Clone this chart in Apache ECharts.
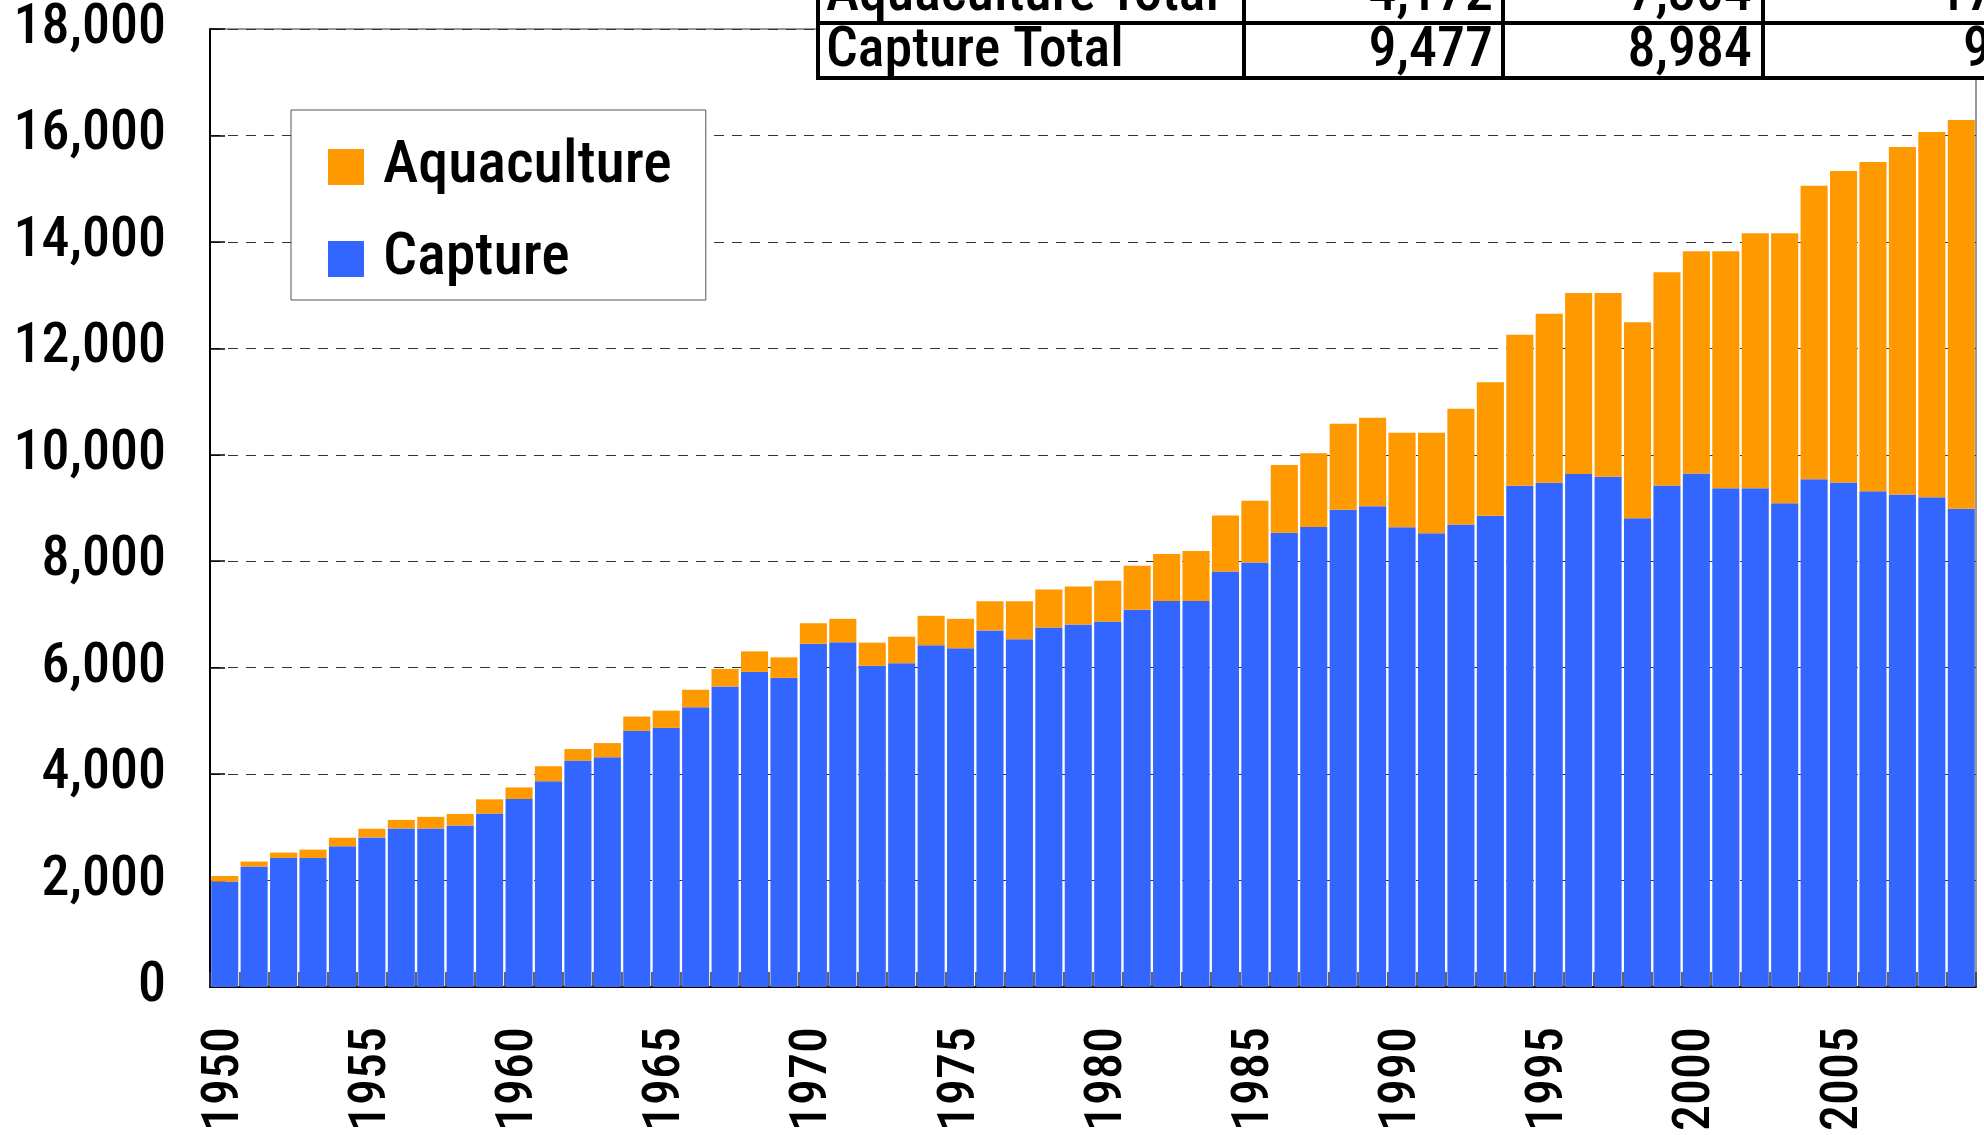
<!DOCTYPE html>
<html>
<head>
<meta charset="utf-8">
<script src="https://cdn.jsdelivr.net/npm/echarts@6/dist/echarts.min.js"></script>
<style>
html,body{margin:0;padding:0;background:#fff;}
#c{width:1984px;height:1135px;}
</style>
</head>
<body>
<div id="c"></div>
<script>
const years = ['1950','1951','1952','1953','1954','1955','1956','1957','1958','1959',
  '1960','1961','1962','1963','1964','1965','1966','1967','1968','1969',
  '1970','1971','1972','1973','1974','1975','1976','1977','1978','1979',
  '1980','1981','1982','1983','1984','1985','1986','1987','1988','1989',
  '1990','1991','1992','1993','1994','1995','1996','1997','1998','1999',
  '2000','2001','2002','2003','2004','2005','2006','2007','2008','2009'];
const capture = [1980,2264,2425,2425,2643,2811,2979,2979,3035,3259,
  3532,3868,4254,4316,4813,4869,5255,5647,5920,5808,
  6450,6476,6035,6085,6420,6364,6700,6532,6756,6812,
  6868,7086,7254,7254,7807,7975,8535,8645,8969,9031,
  8638,8525,8688,8856,9419,9475,9638,9588,8806,9422,
  9650,9369,9369,9088,9538,9481,9313,9256,9200,8984];
const aquaculture = [105,93,100,156,162,162,161,218,217,267,
  218,280,217,267,268,324,330,329,386,386,
  385,442,435,497,554,554,548,716,715,715,
  765,827,883,939,1051,1163,1275,1385,1612,1663,
  1775,1888,2175,2507,2837,3175,3400,3450,3682,4009,
  4175,4456,4794,5075,5518,5850,6187,6525,6863,7304];
const yTicks = [0,2000,4000,6000,8000,10000,12000,14000,16000,18000];
const tableRows = ['Aquaculture Total','Capture Total'];
const tableCol1 = ['4,172','9,477'];
const tableCol2 = ['7,304','8,984'];
const tableCol3 = ['17','9'];

const FONT = "'Roboto Condensed','Liberation Sans',sans-serif";
const WEIGHT = 500;
const chart = echarts.init(document.getElementById('c'));

const tbl = [];
const L = 818, C1 = 1244, C2 = 1503, C3 = 1763, R = 2100;
const rowY = [-33, 23, 78];
const col3X = [1938, 1963];
tbl.push({type:'rect', shape:{x:L,y:-40,width:R-L,height:118}, style:{fill:'#fff'}, z:99});
[23, 78].forEach(y => tbl.push({type:'line', shape:{x1:L-2,y1:y,x2:R,y2:y}, style:{stroke:'#000',lineWidth:4}, z:100}));
[L, C1, C2, C3].forEach(x => tbl.push({type:'line', shape:{x1:x,y1:-40,x2:x,y2:80}, style:{stroke:'#000',lineWidth:4}, z:100}));
for (let i = 0; i < 2; i++) {
  const cy = (rowY[i] + rowY[i+1]) / 2 + 1;
  const ts = {fontSize:56, fontWeight:WEIGHT, fontFamily:FONT, fill:'#000', verticalAlign:'middle'};
  tbl.push({type:'text', x:L+8, y:cy, style:Object.assign({text:tableRows[i], align:'left'}, ts), z:101});
  tbl.push({type:'text', x:C1+249, y:cy, style:Object.assign({text:tableCol1[i], align:'right'}, ts), z:101});
  tbl.push({type:'text', x:C2+249, y:cy, style:Object.assign({text:tableCol2[i], align:'right'}, ts), z:101});
  tbl.push({type:'text', x:col3X[i], y:cy, style:Object.assign({text:tableCol3[i], align:'left'}, ts), z:101});
}

chart.setOption({
  animation: false,
  backgroundColor: '#fff',
  grid: {left:210, right:8, top:29, bottom:148, outerBoundsMode:'none', containLabel:false, show:true, borderColor:'#333', borderWidth:1, backgroundColor:'transparent'},
  legend: {
    data: ['Aquaculture','Capture'],
    orient: 'vertical', left: 291, top: 110,
    padding: [27, 34, 11, 37],
    itemGap: 32, itemWidth: 36, itemHeight: 36, icon: 'rect',
    backgroundColor: '#fff', borderColor: '#555', borderWidth: 1,
    textStyle: {fontSize: 60, lineHeight: 60, fontWeight: WEIGHT, fontFamily: FONT, color: '#000', padding:[0,0,0,14]}
  },
  xAxis: {
    type: 'category', data: years,
    axisLine: {lineStyle:{color:'#000', width:2}},
    axisTick: {show:true, inside:true, length:15, interval:0, lineStyle:{color:'#333', width:1.5}},
    axisLabel: {interval:4, rotate:90, margin:40, fontSize:52, fontWeight:WEIGHT, fontFamily:FONT, color:'#000'}
  },
  yAxis: {
    type: 'value', min: 0, max: 18000, interval: 2000,
    axisLine: {show:true, lineStyle:{color:'#000', width:2}},
    axisTick: {show:true, inside:true, length:15, lineStyle:{color:'#000', width:1.5}},
    splitLine: {show:true, lineStyle:{color:'#333', width:1, type:[10,8]}},
    axisLabel: {margin:44, fontSize:56, fontWeight:WEIGHT, fontFamily:FONT, color:'#000',
      formatter: v => yTicks.includes(v) ? v.toLocaleString('en-US') : ''}
  },
  series: [
    {name:'Capture', type:'bar', stack:'t', data:capture, barCategoryGap:'8%', itemStyle:{color:'#3366FF'}},
    {name:'Aquaculture', type:'bar', stack:'t', data:aquaculture, barCategoryGap:'8%', itemStyle:{color:'#FF9900'}}
  ],
  graphic: tbl
});
</script>
</body>
</html>
